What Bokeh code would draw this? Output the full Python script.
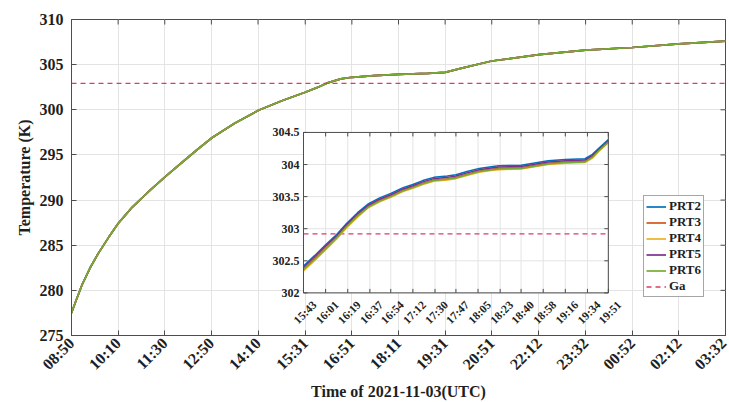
import math
from bokeh.plotting import figure
from bokeh.models import Range1d, FixedTicker, Legend, LegendItem
from bokeh.core.properties import value
from bokeh.embed import file_html
from bokeh.resources import INLINE

# ---------------- data ----------------
main_tick_labels = ["08:50", "10:10", "11:30", "12:50", "14:10", "15:31", "16:51", "18:11",
                    "19:31", "20:51", "22:12", "23:32", "00:52", "02:12", "03:32"]
y_tick_values = [275, 280, 285, 290, 295, 300, 305, 310]

# minutes after 08:50 (main curve, all PRT sensors overlap)
main_minutes = [0, 8, 18, 32, 46, 64, 80, 92, 104, 135, 161, 192, 216, 241, 280, 321, 361,
                401, 421, 438, 462, 481, 519, 561, 611, 641, 668, 721, 802, 882, 962, 1042, 1122]
main_temp = [277.5, 278.9, 280.6, 282.5, 284.1, 285.9, 287.4, 288.3, 289.2, 291.1, 292.6,
             294.3, 295.6, 296.9, 298.5, 299.95, 301.0, 301.95, 302.45, 302.95, 303.42, 303.6,
             303.78, 303.93, 304.04, 304.15, 304.59, 305.4, 306.1, 306.6, 306.9, 307.3, 307.6]

ga_level = 302.92

inset_tick_labels = ["15:43", "16:01", "16:19", "16:37", "16:54", "17:12", "17:30", "17:47",
                     "18:05", "18:23", "18:40", "18:58", "19:16", "19:34", "19:51"]
inset_y_ticks = [302, 302.5, 303, 303.5, 304, 304.5]
inset_y_labels = ["302", "302.5", "303", "303.5", "304", "304.5"]

# minutes after 15:43
inset_minutes = [0, 9, 18, 27, 35, 44, 53, 62, 71, 81, 89, 97, 106, 117, 124, 133, 143, 154,
                 159, 177, 199, 213, 229, 235, 240, 248]
prt2 = [302.42, 302.58, 302.75, 302.91, 303.08, 303.25, 303.39, 303.48, 303.55, 303.64, 303.69,
        303.75, 303.80, 303.82, 303.84, 303.89, 303.94, 303.97, 303.98, 303.99, 304.06, 304.08,
        304.09, 304.16, 304.25, 304.39]
prt3 = [302.37, 302.53, 302.70, 302.87, 303.04, 303.21, 303.35, 303.44, 303.51, 303.60, 303.65,
        303.71, 303.76, 303.78, 303.80, 303.85, 303.90, 303.93, 303.94, 303.95, 304.02, 304.04,
        304.05, 304.12, 304.22, 304.36]
prt4 = [302.34, 302.50, 302.67, 302.84, 303.01, 303.18, 303.33, 303.42, 303.49, 303.58, 303.63,
        303.69, 303.74, 303.76, 303.78, 303.83, 303.88, 303.91, 303.92, 303.93, 304.00, 304.02,
        304.03, 304.10, 304.20, 304.34]
prt5 = [302.40, 302.56, 302.73, 302.89, 303.06, 303.23, 303.37, 303.46, 303.53, 303.62, 303.67,
        303.73, 303.78, 303.80, 303.82, 303.87, 303.92, 303.95, 303.96, 303.97, 304.04, 304.06,
        304.07, 304.14, 304.23, 304.37]
prt6 = [302.36, 302.52, 302.69, 302.86, 303.03, 303.20, 303.34, 303.43, 303.50, 303.59, 303.64,
        303.70, 303.75, 303.77, 303.79, 303.84, 303.89, 303.92, 303.93, 303.94, 304.01, 304.03,
        304.04, 304.11, 304.21, 304.35]

series_names = ["PRT2", "PRT3", "PRT4", "PRT5", "PRT6"]
series_colors = ["#0072BD", "#D95319", "#EDB120", "#7E2F8E", "#77AC30"]
inset_series = [prt2, prt3, prt4, prt5, prt6]
ga_color = "#DC3C64"


def to_min(label, base):
    h, m = map(int, label.split(":"))
    bh, bm = map(int, base.split(":"))
    return ((h * 60 + m) - (bh * 60 + bm)) % 1440


main_ticks = [to_min(l, main_tick_labels[0]) for l in main_tick_labels]
inset_start = to_min(inset_tick_labels[0], main_tick_labels[0])
inset_ticks = [inset_start + to_min(l, inset_tick_labels[0]) for l in inset_tick_labels]
inset_x = [inset_start + m for m in inset_minutes]

FONT = "Liberation Serif"
AX = "#4d4d4d"
GRID = "#e4e4e4"
TXT = "#1f1f1f"

x0, x1 = main_ticks[0], main_ticks[-1]
y0, y1 = y_tick_values[0], y_tick_values[-1]

p = figure(width=729, height=402, output_backend="svg", toolbar_location=None,
           x_range=Range1d(x0, x1), y_range=Range1d(y0, y1),
           min_border_left=71, min_border_right=4, min_border_top=19, min_border_bottom=64)
p.outline_line_color = AX
p.outline_line_width = 1

p.xaxis.ticker = FixedTicker(ticks=main_ticks)
p.xaxis.major_label_overrides = {t: l for t, l in zip(main_ticks, main_tick_labels)}
p.xaxis.major_label_orientation = math.pi / 4
p.yaxis.ticker = FixedTicker(ticks=y_tick_values)
p.xgrid.ticker = FixedTicker(ticks=main_ticks)
p.ygrid.ticker = FixedTicker(ticks=y_tick_values)
for g in (p.xgrid, p.ygrid):
    g.grid_line_color = GRID
    g.grid_line_width = 1

for ax in (p.xaxis, p.yaxis):
    ax.axis_line_color = AX
    ax.major_tick_line_color = AX
    ax.major_tick_in = 5
    ax.major_tick_out = 0
    ax.minor_tick_line_color = None
    ax.major_label_text_font = FONT
    ax.major_label_text_font_style = "bold"
    ax.major_label_text_color = TXT
    ax.major_label_text_font_size = "16px"
    ax.axis_label_text_font = FONT
    ax.axis_label_text_font_style = "bold"
    ax.axis_label_text_font_size = "16px"
    ax.axis_label_text_color = TXT
p.xaxis.major_label_standoff = 5
p.yaxis.major_label_standoff = 8
p.xaxis.axis_label = "Time of 2021-11-03(UTC)"
p.yaxis.axis_label = "Temperature (K)"
p.xaxis.axis_label_standoff = 1
p.yaxis.axis_label_standoff = 4

# top / right inward ticks (box on)
p.ray(x=main_ticks, y=[y1] * len(main_ticks), length=5, length_units="screen",
      angle=-math.pi / 2, line_color=AX)
p.ray(x=[x1] * len(y_tick_values), y=y_tick_values, length=5, length_units="screen",
      angle=math.pi, line_color=AX)

# main lines
main_renderers = []
for name, color in zip(series_names, series_colors):
    r = p.line(main_minutes, main_temp, line_color=color, line_width=1.7)
    main_renderers.append(r)
ga_r = p.line([x0, x1], [ga_level, ga_level], line_color=ga_color, line_width=1.3,
              line_dash="5 4")

# ---------------- inset ----------------
ix0, ix1 = inset_ticks[0], inset_ticks[-1]
iy0, iy1 = inset_y_ticks[0], inset_y_ticks[-1]
sub = p.subplot(x_source=Range1d(ix0, ix1), y_source=Range1d(iy0, iy1),
                x_target=Range1d(398, 921), y_target=Range1d(279.72, 297.49))
sub.quad(left=[ix0], right=[ix1], bottom=[iy0], top=[iy1], fill_color="white", line_color=None)
sub.segment(x0=inset_ticks, y0=[iy0] * len(inset_ticks), x1=inset_ticks, y1=[iy1] * len(inset_ticks),
            line_color=GRID, line_width=1)
sub.segment(x0=[ix0] * len(inset_y_ticks), y0=inset_y_ticks, x1=[ix1] * len(inset_y_ticks),
            y1=inset_y_ticks, line_color=GRID, line_width=1)
sub.line([ix0, ix1], [ga_level, ga_level], line_color=ga_color, line_width=1.3, line_dash="5 4")
for data, color in zip(inset_series, series_colors):
    sub.line(inset_x, data, line_color=color, line_width=1.5)
sub.quad(left=[ix0], right=[ix1], bottom=[iy0], top=[iy1], fill_color=None, line_color=AX,
         line_width=1)
sub.ray(x=inset_ticks, y=[iy0] * len(inset_ticks), length=4, length_units="screen",
        angle=math.pi / 2, line_color=AX)
sub.ray(x=inset_ticks, y=[iy1] * len(inset_ticks), length=4, length_units="screen",
        angle=-math.pi / 2, line_color=AX)
sub.ray(x=[ix0] * len(inset_y_ticks), y=inset_y_ticks, length=4, length_units="screen",
        angle=0, line_color=AX)
sub.ray(x=[ix1] * len(inset_y_ticks), y=inset_y_ticks, length=4, length_units="screen",
        angle=math.pi, line_color=AX)
sub.text(x=[ix0] * len(inset_y_ticks), y=inset_y_ticks, text=inset_y_labels,
         x_offset=-4, y_offset=0, text_align="right", text_baseline="middle",
         text_font=value(FONT), text_font_style="bold", text_font_size="12px", text_color=TXT)
sub.text(x=inset_ticks, y=[iy0] * len(inset_ticks), text=inset_tick_labels,
         angle=math.pi / 4, x_offset=11, y_offset=10, text_align="right", text_baseline="middle",
         text_font=value(FONT), text_font_style="bold", text_font_size="11.5px", text_color=TXT)

# ---------------- legend ----------------
items = [LegendItem(label=n, renderers=[r]) for n, r in zip(series_names, main_renderers)]
items.append(LegendItem(label="Ga", renderers=[ga_r]))
legend = Legend(items=items, location=(572, 38))
legend.label_text_font = FONT
legend.label_text_font_style = "bold"
legend.label_text_font_size = "13px"
legend.label_text_color = TXT
legend.label_height = 15
legend.glyph_height = 15
legend.glyph_width = 20
legend.label_standoff = 3
legend.spacing = 0
legend.padding = 2
legend.margin = 0
legend.border_line_color = AX
legend.border_line_width = 1
legend.background_fill_color = "white"
legend.background_fill_alpha = 1
p.add_layout(legend)

open("out.html", "w").write(file_html(p, INLINE))
